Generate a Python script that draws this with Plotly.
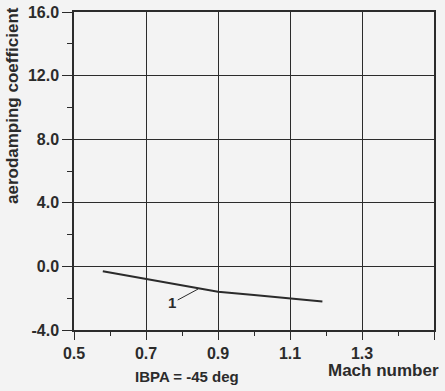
import plotly.graph_objects as go

# Aerodamping coefficient vs Mach number, curve 1 (IBPA = -45 deg)
mach = [0.58, 0.70, 0.80, 0.90, 1.00, 1.10, 1.19]
aero_damping = [-0.3, -0.8, -1.2, -1.6, -1.8, -2.0, -2.2]

x_ticks = [0.5, 0.7, 0.9, 1.1, 1.3, 1.5]
y_ticks = [-4.0, 0.0, 4.0, 8.0, 12.0, 16.0]

ink = "#2b2b2b"
font_family = "Liberation Sans, Arial, sans-serif"

W, H = 445, 391
L, R, T, B = 74, 11, 12, 61
pw, ph = W - L - R, H - T - B


def px_x(x):
    return (x - L) / pw


def px_y(y):
    return (H - B - y) / ph


def bold(size):
    return dict(family=font_family, size=size, color=ink, weight=700)


fig = go.Figure()
fig.add_trace(go.Scatter(
    x=mach, y=aero_damping, mode="lines",
    line=dict(color=ink, width=2), showlegend=False,
))

# curve label with a short leader
fig.add_annotation(
    x=0.845, y=-1.42, xref="x", yref="y",
    text="1", showarrow=True, arrowhead=0, arrowwidth=1,
    arrowcolor=ink, ax=-26, ay=14, standoff=0, font=bold(15),
)
fig.add_annotation(
    x=px_x(187), y=px_y(376), xref="paper", yref="paper",
    xanchor="center", yanchor="middle",
    text="IBPA = -45 deg", showarrow=False, font=bold(15),
)
fig.add_annotation(
    x=px_x(383), y=px_y(370), xref="paper", yref="paper",
    xanchor="center", yanchor="middle",
    text="Mach number", showarrow=False, font=bold(17),
)
fig.add_annotation(
    x=px_x(12), y=px_y(106), xref="paper", yref="paper",
    xanchor="center", yanchor="middle", textangle=-90,
    text="aerodamping coefficient", showarrow=False, font=bold(17),
)

fig.update_layout(
    width=W, height=H,
    margin=dict(l=L, r=R, t=T, b=B),
    paper_bgcolor="#f3f3f3", plot_bgcolor="#f3f3f3",
    font=dict(family=font_family, size=12, color=ink),
    showlegend=False,
)

tick_font = bold(16)

fig.update_xaxes(
    range=[0.5, 1.5], tickvals=x_ticks,
    ticktext=[f"{v:.1f}" for v in x_ticks],
    showgrid=True, gridcolor=ink, gridwidth=1.2,
    showline=True, linecolor=ink, linewidth=1.5, mirror=True,
    ticks="outside", ticklen=8, tickcolor=ink, tickwidth=1,
    minor=dict(dtick=0.1, ticks="outside", ticklen=4, tickcolor=ink, showgrid=False),
    zeroline=False, tickfont=tick_font, automargin=False, fixedrange=True,
)
fig.update_yaxes(
    range=[-4, 16], tickvals=y_ticks,
    ticktext=[f"{v:.1f}" for v in y_ticks],
    showgrid=True, gridcolor=ink, gridwidth=1.2,
    showline=True, linecolor=ink, linewidth=1.5, mirror=True,
    ticks="outside", ticklen=10, tickcolor=ink, tickwidth=1,
    minor=dict(dtick=2, ticks="outside", ticklen=5, tickcolor=ink, showgrid=False),
    zeroline=False, tickfont=tick_font, automargin=False, fixedrange=True,
)

fig.write_html("out.html")
